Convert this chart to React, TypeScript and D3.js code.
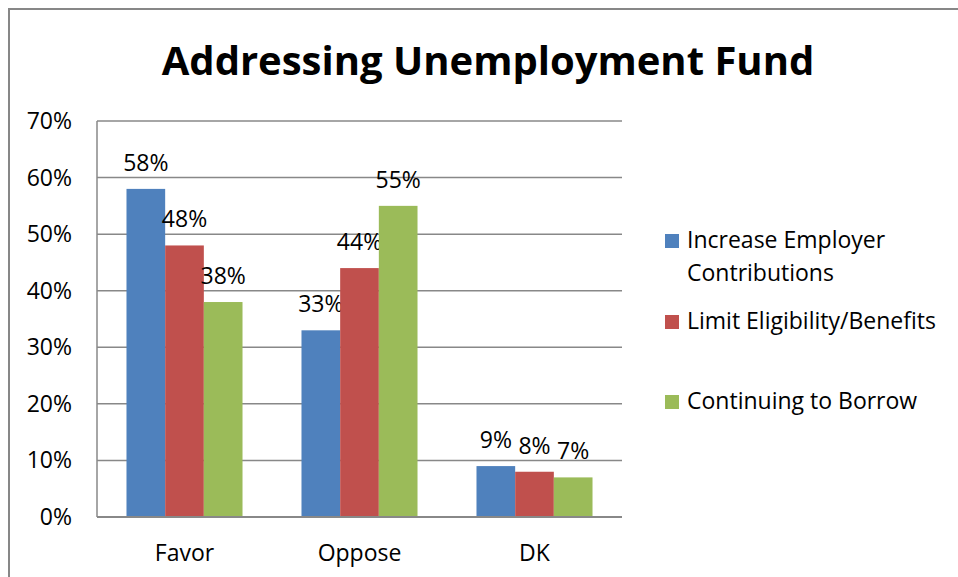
import React from "react";
import * as d3 from "d3";

const categories = ["Favor", "Oppose", "DK"];
const seriesNames = ["Increase Employer Contributions", "Limit Eligibility/Benefits", "Continuing to Borrow"];
const legendLines = [["Increase Employer", "Contributions"], ["Limit Eligibility/Benefits"], ["Continuing to Borrow"]];
const increaseEmployer = [0.58, 0.33, 0.09];
const limitEligibility = [0.48, 0.44, 0.08];
const continuingBorrow = [0.38, 0.55, 0.07];
const yTicks = [0, 0.1, 0.2, 0.3, 0.4, 0.5, 0.6, 0.7];
const colors = ["#4F81BD", "#C0504D", "#9BBB59"];
const title = "Addressing Unemployment Fund";

const W = 958, H = 577;
const FONT = "'Open Sans', Lato, sans-serif";
const FS = 23;

export default function App() {
  const values = [increaseEmployer, limitEligibility, continuingBorrow];
  const plot = { left: 97, right: 622, top: 121, bottom: 517 };
  const x0 = d3.scaleBand<string>().domain(categories).range([plot.left, plot.right]).paddingInner(0.337).paddingOuter(0.1685);
  const x1 = d3.scaleBand<string>().domain(seriesNames).range([0, x0.bandwidth()]);
  const y = d3.scaleLinear().domain([0, 0.7]).range([plot.bottom, plot.top]);
  const fmt = d3.format(".0%");
  const legendBaselines = [[248, 281], [329], [409]];

  return (
    <svg width={W} height={H} style={{ position: "absolute", left: 0, top: 0, background: "#fff" }} fontFamily={FONT}>
      <rect x={0} y={0} width={W} height={H} fill="#fff" />
      <rect x={9} y={9} width={W + 20} height={H + 20} fill="none" stroke="#878787" strokeWidth={2} />
      <text x={488} y={75} textAnchor="middle" fontSize={40} fontWeight="bold" fill="#000">{title}</text>
      {yTicks.map((t) => (
        <g key={t}>
          <line x1={plot.left} x2={plot.right} y1={y(t)} y2={y(t)} stroke="#888" strokeWidth={1.5} />
          <text x={72} y={y(t)} dy="0.35em" textAnchor="end" fontSize={FS} fill="#000">{fmt(t)}</text>
        </g>
      ))}
      <line x1={plot.left} x2={plot.left} y1={plot.top} y2={plot.bottom} stroke="#888" strokeWidth={1.5} />
      {categories.map((c, ci) => (
        <g key={c}>
          {seriesNames.map((s, si) => {
            const v = values[si][ci];
            const bx = (x0(c) as number) + (x1(s) as number);
            return (
              <g key={s}>
                <rect x={bx} y={y(v)} width={x1.bandwidth()} height={plot.bottom - y(v)} fill={colors[si]} />
                <text x={bx + x1.bandwidth() / 2} y={y(v) - 18} textAnchor="middle" fontSize={FS} fill="#000">{fmt(v)}</text>
              </g>
            );
          })}
          <text x={(x0(c) as number) + x0.bandwidth() / 2} y={561} textAnchor="middle" fontSize={FS} fill="#000">{c}</text>
        </g>
      ))}
      <line x1={plot.left} x2={plot.right} y1={plot.bottom} y2={plot.bottom} stroke="#888" strokeWidth={2} />
      {legendLines.map((lines, i) => (
        <g key={i}>
          <rect x={665} y={legendBaselines[i][0] - 14} width={14} height={14} fill={colors[i]} />
          {lines.map((ln, li) => (
            <text key={li} x={687} y={legendBaselines[i][li]} fontSize={FS} fill="#000">{ln}</text>
          ))}
        </g>
      ))}
    </svg>
  );
}
